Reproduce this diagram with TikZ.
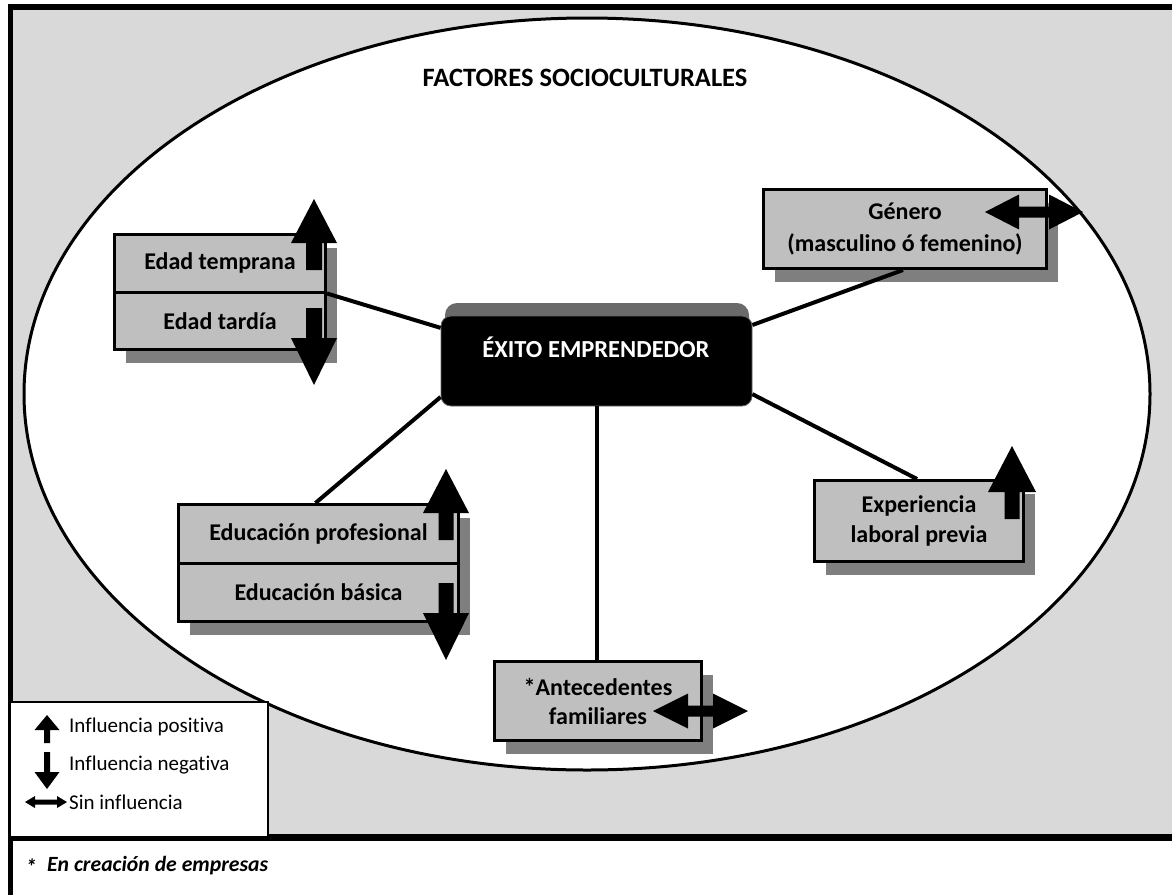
\documentclass[tikz,border=0pt]{standalone}
\usepackage{fontspec}
\setmainfont{Carlito}[Ligatures=NoCommon]
\usetikzlibrary{shadows}
\definecolor{bggrey}{HTML}{D9D9D9}
\definecolor{boxgrey}{HTML}{BFBFBF}
\definecolor{shadowgrey}{HTML}{7F7F7F}
\definecolor{bevelgrey}{HTML}{6A6A6A}
\begin{document}
\begin{tikzpicture}[x=1pt,y=-1pt,
  labelfont/.style={font=\fontsize{24}{30}\selectfont\bfseries},
  factor/.style={draw=black, line width=3pt, fill=boxgrey, labelfont, align=center, inner sep=0pt},
  shadowed/.style={drop shadow={shadow xshift=11pt, shadow yshift=-13pt, fill=shadowgrey, opacity=1}},
  link/.style={line width=4pt},
  legendtext/.style={font=\fontsize{21}{24}\selectfont, anchor=west, inner sep=0pt},
  pics/vup/.style n args={4}{code={% length, head length, head half width, shaft half width
    \fill (0,0) -- (#3,#2) -- (#4,#2) -- (#4,#1) -- (-#4,#1) -- (-#4,#2) -- (-#3,#2) -- cycle;}},
  pics/vdown/.style n args={4}{code={%
    \fill (0,0) -- (#3,-#2) -- (#4,-#2) -- (#4,-#1) -- (-#4,-#1) -- (-#4,-#2) -- (-#3,-#2) -- cycle;}},
  pics/hboth/.style n args={4}{code={% half length, head length, head half height, shaft half height
    \fill (-#1,0) -- (-#1+#2,-#3) -- (-#1+#2,-#4) -- (#1-#2,-#4) -- (#1-#2,-#3) -- (#1,0)
      -- (#1-#2,#3) -- (#1-#2,#4) -- (-#1+#2,#4) -- (-#1+#2,#3) -- cycle;}}
]
\useasboundingbox (0,0) rectangle (1172,894);
\clip (0,0) rectangle (1172,894);

% page and frame
\fill[white] (0,0) rectangle (1172,894);
\fill[bggrey] (10,7) rectangle (1180,837);
\draw[line width=6pt] (8,7) -- (1180,7);
\draw[line width=5pt] (10.5,4) -- (10.5,900);
\draw[line width=7pt] (8,837.5) -- (1180,837.5);

% sociocultural field
\draw[line width=3pt, fill=white] (587,394) ellipse [x radius=563, y radius=376];
\node[font=\fontsize{26.5}{30}\selectfont\bfseries] (title) at (585,78) {FACTORES SOCIOCULTURALES};

% legend
\node[draw=black, line width=1.5pt, fill=white, minimum width=258pt, minimum height=135pt, inner sep=0pt]
  (legend) at (139,769.5) {};
\pic at (47,715) {vup={28}{15}{12.5}{3}};
\node[legendtext] (lpos) at (69,727) {Influencia positiva};
\pic at (47,789) {vdown={37}{17}{12.5}{3}};
\node[legendtext] (lneg) at (69,765) {Influencia negativa};
\pic at (46,802) {hboth={21}{10}{6}{2.5}};
\node[legendtext] (lnone) at (69,802) {Sin influencia};

% footnote
\node[font=\fontsize{22}{26}\selectfont\bfseries\itshape, inner sep=0pt] (star) at (31,867) {*};
\node[font=\fontsize{21.7}{26}\selectfont\bfseries\itshape, anchor=west, inner sep=0pt] (note) at (47,866) {En creación de empresas};

% central node
\fill[bevelgrey, rounded corners=12pt] (445,303) rectangle (749,350);
\node[fill=black, draw=black!60, line width=0.8pt, rounded corners=10pt, minimum width=311pt, minimum height=90pt, inner sep=0pt]
  (exito) at (596.5,361) {};
\node[font=\fontsize{24.5}{30}\selectfont\bfseries, text=white, inner sep=0pt] (exitotext) at (596,347) {ÉXITO EMPRENDEDOR};

% factors
\node[factor, shadowed, minimum width=211pt, minimum height=57.5pt] (edadT) at (220,263.25) {Edad temprana};
\node[factor, shadowed, minimum width=211pt, minimum height=57.5pt] (edadL) at (220,320.75) {Edad tardía};
\node[factor, shadowed, minimum width=283pt, minimum height=79pt, font=\fontsize{24}{32}\selectfont\bfseries] (genero) at (905,229) {Género\\(masculino ó femenino)};
\node[factor, shadowed, minimum width=209pt, minimum height=81pt] (exper) at (919,521) {Experiencia\\laboral previa};
\node[factor, shadowed, minimum width=280pt, minimum height=58.5pt] (eduP) at (318.5,533.75) {Educación profesional};
\node[factor, shadowed, minimum width=280pt, minimum height=58.5pt] (eduB) at (318.5,592.25) {Educación básica};
\node[factor, shadowed, minimum width=207pt, minimum height=79pt, font=\fontsize{24}{29}\selectfont\bfseries] (antec) at (598,701) {*Antecedentes\\familiares};

% connectors
\draw[link] (edadT.south east) -- (exito.168.7);
\draw[link] ([xshift=-2pt]genero.south) -- (exito.13.4);
\draw[link] (exito.-12.3) -- ([xshift=-2pt]exper.north);
\draw[link] (exito.193.4) -- ([xshift=-3pt]eduP.north);
\draw[link] (exito.south) -- (exito.south |- antec.north);

% influence markers
\pic at (314,199) {vup={71}{44}{23}{8}};
\pic at (314,385) {vdown={77}{47}{23}{8}};
\pic at (446,469) {vup={71}{44}{23}{7.5}};
\pic at (446,660) {vdown={77}{47}{23}{7.5}};
\pic at (1012,446) {vup={73}{46}{24}{7.5}};
\pic at (1034,212) {hboth={49}{34}{17.5}{5.5}};
\pic at (700.5,711) {hboth={47.5}{35}{17.5}{5.5}};
\end{tikzpicture}
\end{document}
